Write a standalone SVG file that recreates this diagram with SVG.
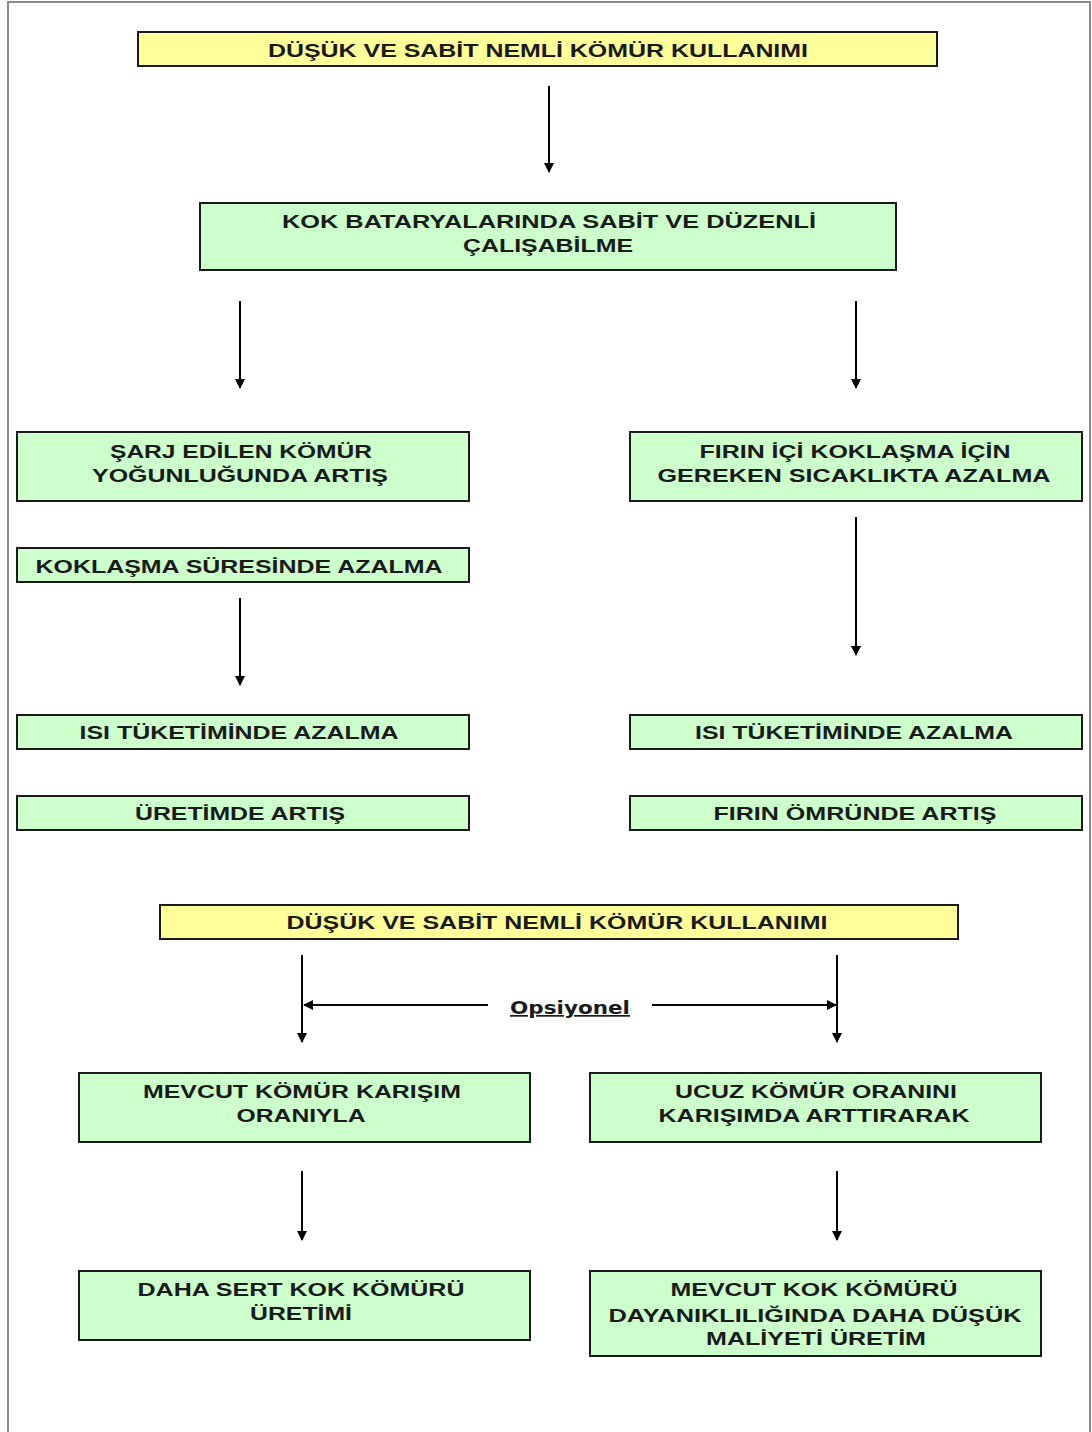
<svg xmlns="http://www.w3.org/2000/svg" width="1092" height="1432" viewBox="0 0 1092 1432">
<style>
.frame{fill:#fff;stroke:#8a8a8a;stroke-width:2}
.y{fill:#ffff99;stroke:#1a1a1a;stroke-width:2}
.g{fill:#ccffcc;stroke:#1a1a1a;stroke-width:2}
text{font-family:"Liberation Sans",Arial,sans-serif;font-weight:bold;font-size:18px;fill:#1a1a1a;text-anchor:middle}
.c line{stroke:#000;stroke-width:2;marker-end:url(#ah)}
.op{font-family:"DejaVu Sans",Verdana,sans-serif;font-size:17px;text-decoration:underline}
</style>
<defs>
<marker id="ah" viewBox="0 0 10 10" refX="9" refY="5" markerWidth="5" markerHeight="5" orient="auto" markerUnits="strokeWidth">
<path d="M0,0 L10,5 L0,10 Z" fill="#000"/>
</marker>
</defs>
<rect class="frame" x="8" y="2" width="1082" height="1440"/>
<g id="n1"><rect class="y" x="138" y="32" width="799" height="34"/><text x="538" y="57" textLength="540" lengthAdjust="spacingAndGlyphs">DÜŞÜK VE SABİT NEMLİ KÖMÜR KULLANIMI</text></g>
<g id="n2"><rect class="g" x="200" y="203" width="696" height="67"/><text x="549" y="228" textLength="534" lengthAdjust="spacingAndGlyphs">KOK BATARYALARINDA SABİT VE DÜZENLİ</text><text x="548" y="252" textLength="170" lengthAdjust="spacingAndGlyphs">ÇALIŞABİLME</text></g>
<g id="n3"><rect class="g" x="17" y="432" width="452" height="69"/><text x="241" y="458" textLength="262" lengthAdjust="spacingAndGlyphs">ŞARJ EDİLEN KÖMÜR</text><text x="240" y="482" textLength="296" lengthAdjust="spacingAndGlyphs">YOĞUNLUĞUNDA ARTIŞ</text></g>
<g id="n4"><rect class="g" x="630" y="432" width="452" height="69"/><text x="855" y="458" textLength="311" lengthAdjust="spacingAndGlyphs">FIRIN İÇİ KOKLAŞMA İÇİN</text><text x="854" y="482" textLength="393" lengthAdjust="spacingAndGlyphs">GEREKEN SICAKLIKTA AZALMA</text></g>
<g id="n5"><rect class="g" x="17" y="548" width="452" height="34"/><text x="239" y="573" textLength="407" lengthAdjust="spacingAndGlyphs">KOKLAŞMA SÜRESİNDE AZALMA</text></g>
<g id="n6"><rect class="g" x="17" y="715" width="452" height="34"/><text x="239" y="739" textLength="319" lengthAdjust="spacingAndGlyphs">ISI TÜKETİMİNDE AZALMA</text></g>
<g id="n7"><rect class="g" x="630" y="715" width="452" height="34"/><text x="854" y="739" textLength="318" lengthAdjust="spacingAndGlyphs">ISI TÜKETİMİNDE AZALMA</text></g>
<g id="n8"><rect class="g" x="17" y="796" width="452" height="34"/><text x="240" y="820" textLength="210" lengthAdjust="spacingAndGlyphs">ÜRETİMDE ARTIŞ</text></g>
<g id="n9"><rect class="g" x="630" y="796" width="452" height="34"/><text x="855" y="820" textLength="283" lengthAdjust="spacingAndGlyphs">FIRIN ÖMRÜNDE ARTIŞ</text></g>
<g id="n10"><rect class="y" x="160" y="905" width="798" height="34"/><text x="557" y="929" textLength="541" lengthAdjust="spacingAndGlyphs">DÜŞÜK VE SABİT NEMLİ KÖMÜR KULLANIMI</text></g>
<g id="n11"><rect class="g" x="79" y="1073" width="451" height="69"/><text x="302" y="1098" textLength="318" lengthAdjust="spacingAndGlyphs">MEVCUT KÖMÜR KARIŞIM</text><text x="301" y="1122" textLength="129" lengthAdjust="spacingAndGlyphs">ORANIYLA</text></g>
<g id="n12"><rect class="g" x="590" y="1073" width="451" height="69"/><text x="816" y="1098" textLength="282" lengthAdjust="spacingAndGlyphs">UCUZ KÖMÜR ORANINI</text><text x="814" y="1122" textLength="311" lengthAdjust="spacingAndGlyphs">KARIŞIMDA ARTTIRARAK</text></g>
<g id="n13"><rect class="g" x="79" y="1271" width="451" height="69"/><text x="301" y="1296" textLength="327" lengthAdjust="spacingAndGlyphs">DAHA SERT KOK KÖMÜRÜ</text><text x="301" y="1320" textLength="102" lengthAdjust="spacingAndGlyphs">ÜRETİMİ</text></g>
<g id="n14"><rect class="g" x="590" y="1271" width="451" height="85"/><text x="814" y="1296" textLength="287" lengthAdjust="spacingAndGlyphs">MEVCUT KOK KÖMÜRÜ</text><text x="815" y="1322" textLength="413" lengthAdjust="spacingAndGlyphs">DAYANIKLILIĞINDA DAHA DÜŞÜK</text><text x="816" y="1345" textLength="220" lengthAdjust="spacingAndGlyphs">MALİYETİ ÜRETİM</text></g>
<g id="lbl"><text class="op" x="570" y="1014" textLength="120" lengthAdjust="spacingAndGlyphs">Opsiyonel</text></g>
<g id="connectors" class="c">
<line x1="549" y1="86" x2="549" y2="172"/>
<line x1="240" y1="301" x2="240" y2="388"/>
<line x1="856" y1="301" x2="856" y2="388"/>
<line x1="240" y1="598" x2="240" y2="685"/>
<line x1="856" y1="517" x2="856" y2="655"/>
<line x1="302" y1="955" x2="302" y2="1042"/>
<line x1="837" y1="955" x2="837" y2="1042"/>
<line x1="488" y1="1005" x2="304" y2="1005"/>
<line x1="652" y1="1005" x2="836" y2="1005"/>
<line x1="302" y1="1171" x2="302" y2="1240"/>
<line x1="837" y1="1171" x2="837" y2="1240"/>
</g>
</svg>
